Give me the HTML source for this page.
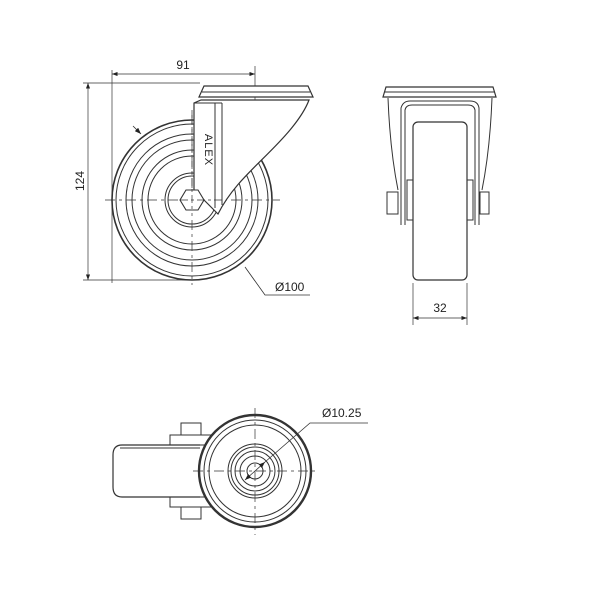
<!DOCTYPE html>
<html><head><style>body{margin:0;background:#fff}svg{display:block}</style></head><body>
<svg width="600" height="600" viewBox="0 0 600 600" xmlns="http://www.w3.org/2000/svg" font-family="Liberation Sans, sans-serif">
<defs><marker id="a" markerWidth="8" markerHeight="6" refX="8" refY="3" orient="auto-start-reverse"><path d="M0,0L8,3L0,6z" fill="#222"/></marker></defs>
<g fill="none" stroke="#333" stroke-width="1">
<!-- side view -->
<line x1="112" y1="70" x2="112" y2="283" stroke-width="0.7"/>
<line x1="255" y1="66" x2="255" y2="100" stroke-width="0.7"/>
<line x1="112" y1="74" x2="255" y2="74" stroke-width="0.7" marker-start="url(#a)" marker-end="url(#a)"/>
<line x1="83" y1="83" x2="200" y2="83" stroke-width="0.7"/>
<line x1="83" y1="280" x2="192" y2="280" stroke-width="0.7"/>
<line x1="88" y1="83" x2="88" y2="280" stroke-width="0.7" marker-start="url(#a)" marker-end="url(#a)"/>
<circle cx="192" cy="200" r="80" stroke-width="1.6"/>
<circle cx="192" cy="200" r="76"/>
<circle cx="192" cy="200" r="66"/>
<circle cx="192" cy="200" r="60"/>
<circle cx="192" cy="200" r="50"/>
<circle cx="192" cy="200" r="44"/>
<circle cx="192" cy="200" r="27"/>
<circle cx="192" cy="200" r="24"/>
<line x1="105" y1="200" x2="280" y2="200" stroke-dasharray="10,4,3,4" stroke-width="0.7"/>
<line x1="192" y1="115" x2="192" y2="285" stroke-dasharray="10,4,3,4" stroke-width="0.7"/>
<path d="M194,103 L194,190 L204,200 L218,214 C235,180 265,160 290,130 C300,118 306,108 309,100 L201,100 Z" fill="#fff" stroke-width="1.2"/>
<path d="M222,103 L222,205 M215,103 L215,208 M194,103 L222,103"/>
<path d="M199,97 L204,86 L308,86 L313,97 Z" fill="#fff" stroke-width="1.2"/>
<line x1="202" y1="92" x2="310" y2="92"/>
<line x1="201" y1="97" x2="312" y2="97"/>
<polygon points="186,190 198,190 204,200 198,210 186,210 180,200" fill="#fff" stroke-width="1.1"/>
<line x1="192" y1="110" x2="192" y2="212" stroke-dasharray="8,3,3,3" stroke-width="0.7"/>
<line x1="180" y1="200" x2="225" y2="200" stroke-dasharray="8,3,3,3" stroke-width="0.7"/>
<line x1="133" y1="126" x2="141" y2="134" marker-end="url(#a)" stroke-width="0.8"/>
<polyline points="245,267 265,295 310,295" stroke-width="0.8"/>
<!-- front view -->
<path d="M383,97 L386,87 L493,87 L496,97 Z" stroke-width="1.2"/>
<line x1="385" y1="92" x2="494" y2="92"/>
<path d="M388,98 Q390,150 398,190 M492,98 Q490,150 482,190" stroke-width="1"/>
<path d="M401,225 L401,108 Q403,101 410,101 L470,101 Q478,101 479,108 L479,225" stroke-width="1"/>
<path d="M405,225 L405,110 Q406,105 412,105 L468,105 Q474,105 475,110 L475,225"/>
<rect x="413" y="122" width="54" height="158" rx="5" fill="#fff" stroke-width="1.2"/>
<rect x="407" y="180" width="6" height="40"/>
<rect x="467" y="180" width="6" height="40"/>
<rect x="387" y="192" width="11" height="22"/>
<rect x="480" y="192" width="9" height="22"/>
<line x1="413" y1="283" x2="413" y2="325" stroke-width="0.7"/>
<line x1="467" y1="283" x2="467" y2="325" stroke-width="0.7"/>
<line x1="413" y1="318" x2="467" y2="318" stroke-width="0.7" marker-start="url(#a)" marker-end="url(#a)"/>
<!-- top view -->
<path d="M200,445 L122,445 Q113,445 113,455 L113,487 Q113,497 122,497 L200,497" stroke-width="1.2"/>
<line x1="120" y1="448" x2="200" y2="448"/>
<rect x="170" y="435" width="45" height="10"/>
<rect x="170" y="497" width="45" height="10"/>
<rect x="181" y="423" width="20" height="12"/>
<rect x="181" y="507" width="20" height="12"/>
<circle cx="255" cy="471" r="56" stroke-width="2.4" fill="#fff"/>
<circle cx="255" cy="471" r="51"/>
<circle cx="255" cy="471" r="46"/>
<circle cx="255" cy="471" r="27"/>
<circle cx="255" cy="471" r="24"/>
<circle cx="255" cy="471" r="20"/>
<circle cx="255" cy="471" r="15"/>
<circle cx="255" cy="471" r="8"/>
<line x1="193" y1="471" x2="318" y2="471" stroke-dasharray="10,4,3,4" stroke-width="0.7"/>
<line x1="255" y1="408" x2="255" y2="535" stroke-dasharray="10,4,3,4" stroke-width="0.7"/>
<line x1="245" y1="480" x2="265" y2="462" stroke-width="0.8" marker-start="url(#a)" marker-end="url(#a)"/>
<polyline points="265,462 310,423 368,423" stroke-width="0.8"/>
</g>
<g font-size="12" fill="#222">
<text x="183" y="69" text-anchor="middle">91</text>
<text x="84" y="181" text-anchor="middle" transform="rotate(-90 84 181)">124</text>
<text x="275" y="291">Ø100</text>
<text x="440" y="312" text-anchor="middle">32</text>
<text x="322" y="417">Ø10.25</text>
<text x="205" y="150" font-size="11" text-anchor="middle" transform="rotate(90 205 150)" letter-spacing="1">ALEX</text>
</g>
</svg>
</body></html>
